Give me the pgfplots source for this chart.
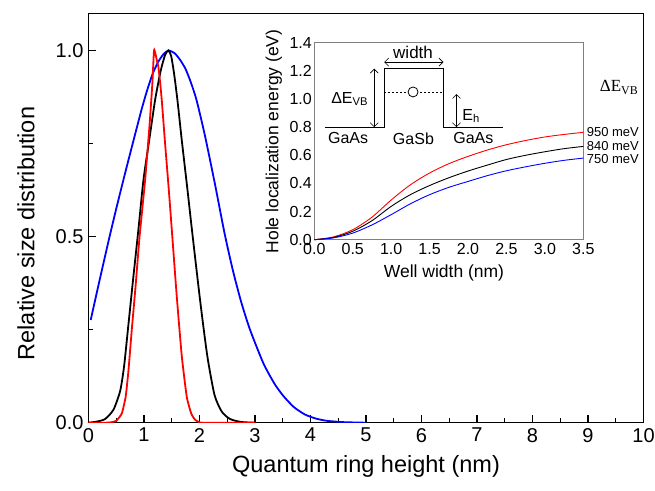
\documentclass[border=0pt]{standalone}
\usepackage{fontspec}
\setmainfont{Liberation Sans}
\newfontfamily\serifont{Liberation Serif}
\usepackage{pgfplots}
\pgfplotsset{compat=1.18}
\usetikzlibrary{arrows.meta}
\begin{document}
\begin{tikzpicture}
\begin{axis}[
 at={(0pt,0pt)}, anchor=south west,
 scale only axis, width=555pt, height=409.4pt,
 xmin=0, xmax=10, ymin=0, ymax=1.1,
 xtick={0,...,10}, ytick={0,0.5,1},
 minor x tick num=1, minor y tick num=1,
 tick pos=left, tick align=inside,
 major tick length=8pt, minor tick length=5pt,
 every tick/.style={black, line width=1.2pt},
 axis line style={line width=1.5pt},
 /pgf/number format/assume math mode=true,
 yticklabel style={/pgf/number format/fixed, /pgf/number format/fixed zerofill, /pgf/number format/precision=1, xshift=-1.5pt},
 xticklabel style={yshift=-2pt},
 tick label style={font=\fontsize{20}{22}\selectfont},
 xlabel={Quantum ring height (nm)}, ylabel={Relative size distribution},
 label style={font=\fontsize{23.5}{26}\selectfont},
 xlabel style={at={(axis description cs:0.5,-0.106)}, anchor=center},
 ylabel style={at={(axis description cs:-0.1126,0.462)}, anchor=center},
]
\addplot[blue, line width=1.8pt, smooth, tension=0.4] coordinates {
(0.04,0.276)(0.2,0.383)(0.375,0.497)(0.5,0.575)(0.645,0.662)(0.8,0.752)(0.95,0.838)(1.05,0.89)(1.15,0.935)(1.25,0.968)(1.35,0.99)(1.44,1.0)(1.55,0.993)(1.65,0.975)(1.75,0.95)(1.85,0.912)(1.95,0.865)(2.1,0.77)(2.28,0.64)(2.45,0.51)(2.6,0.41)(2.75,0.325)(2.91,0.25)(3.15,0.16)(3.35,0.105)(3.51,0.072)(3.7,0.042)(3.9,0.022)(4.1,0.011)(4.3,0.005)(4.6,0.0015)(5.0,0)};
\addplot[black, line width=1.8pt, smooth, tension=0.4] coordinates {
(0.0,0.0)(0.15,0.003)(0.3,0.01)(0.45,0.035)(0.57,0.085)(0.64,0.15)(0.71,0.25)(0.8,0.38)(0.9,0.52)(0.99,0.652)(1.1,0.765)(1.2,0.867)(1.3,0.945)(1.38,0.988)(1.44,1.0)(1.49,0.985)(1.54,0.94)(1.60,0.87)(1.68,0.76)(1.78,0.63)(1.87,0.51)(2.01,0.33)(2.14,0.18)(2.27,0.075)(2.4,0.03)(2.55,0.01)(2.75,0.002)(3,0)};
\addplot[red, line width=1.8pt, smooth, tension=0.3] coordinates {
(0.0,0)(0.3,0)(0.4,0.001)(0.5,0.005)(0.6,0.025)(0.67,0.07)(0.72,0.14)(0.78,0.25)(0.85,0.37)(0.92,0.5)(1.02,0.652)(1.10,0.8)(1.15,0.91)(1.18,1.0)(1.205,0.992)(1.23,0.975)(1.26,0.955)(1.29,0.915)(1.32,0.867)(1.38,0.75)(1.45,0.62)(1.51,0.5)(1.59,0.34)(1.68,0.18)(1.77,0.07)(1.85,0.025)(1.92,0.008)(2.0,0.001)(2.1,0)(3,0)};
\end{axis}
\begin{axis}[
 at={(225.8pt,183pt)}, anchor=south west,
 scale only axis, width=269pt, height=197pt,
 xmin=0, xmax=3.5, ymin=0, ymax=1.4,
 xtick={0,0.5,...,3.5}, ytick={0,0.2,...,1.4},
 major tick length=0pt, minor tick length=0pt, tick pos=left,
 axis line style={gray, line width=1pt},
 clip=false,
 /pgf/number format/assume math mode=true,
 tick label style={font=\fontsize{16}{18}\selectfont},
 xticklabel style={/pgf/number format/fixed, /pgf/number format/fixed zerofill, /pgf/number format/precision=1},
 yticklabel style={/pgf/number format/fixed, /pgf/number format/fixed zerofill, /pgf/number format/precision=1, xshift=1pt},
 xlabel={Well width (nm)}, ylabel={Hole localization energy (eV)},
 label style={font=\fontsize{17.5}{19}\selectfont},
 xlabel style={at={(axis description cs:0.482,-0.1675)}, anchor=center},
 ylabel style={at={(axis description cs:-0.15,0.499)}, anchor=center},
]
\addplot[red, line width=0.9pt, smooth] coordinates {
(0,0)(0.25,0.02)(0.5,0.071)(0.75,0.16)(1.0,0.282)(1.25,0.39)(1.5,0.474)(1.75,0.54)(2.0,0.592)(2.25,0.637)(2.5,0.675)(2.75,0.705)(3.0,0.73)(3.25,0.748)(3.5,0.763)};
\addplot[black, line width=0.9pt, smooth] coordinates {
(0,0)(0.25,0.016)(0.5,0.06)(0.75,0.135)(1.0,0.237)(1.25,0.32)(1.5,0.385)(1.75,0.44)(2.0,0.488)(2.25,0.53)(2.5,0.57)(2.75,0.6)(3.0,0.625)(3.25,0.647)(3.5,0.663)};
\addplot[blue, line width=0.9pt, smooth] coordinates {
(0,0)(0.25,0.013)(0.5,0.047)(0.75,0.105)(1.0,0.178)(1.25,0.255)(1.5,0.32)(1.75,0.372)(2.0,0.414)(2.25,0.455)(2.5,0.49)(2.75,0.518)(3.0,0.543)(3.25,0.564)(3.5,0.58)};
% schematic
\draw[black, line width=0.8pt] (0.14,0.8) -- (0.91,0.8) -- (0.91,1.215) -- (1.68,1.215) -- (1.68,0.8) -- (2.45,0.8);
\draw[black, line width=0.6pt, dash pattern=on 2pt off 2pt] (0.91,1.05) -- (1.68,1.05);
\draw[black, line width=0.8pt, fill=white] (1.285,1.05) circle[radius=5pt];
\draw[black, line width=0.6pt, {Straight Barb[length=4pt,width=8pt]}-{Straight Barb[length=4pt,width=8pt]}] (0.78,0.8) -- (0.78,1.215);
\draw[black, line width=0.6pt, {Straight Barb[length=4pt,width=8pt]}-{Straight Barb[length=4pt,width=8pt]}] (0.91,1.262) -- (1.68,1.262);
\draw[black, line width=0.6pt, {Straight Barb[length=4pt,width=8pt]}-{Straight Barb[length=4pt,width=8pt]}] (1.85,0.8) -- (1.85,1.035);
\node[font=\fontsize{17}{19}\selectfont] at (1.285,1.33) {width};
\node[font=\fontsize{16}{18}\selectfont] at (0.46,1.0) {ΔE\textsubscript{VB}};
\node[font=\fontsize{16}{18}\selectfont, anchor=west] at (1.88,0.88) {E\textsubscript{h}};
\node[font=\fontsize{16}{18}\selectfont] at (0.44,0.72) {GaAs};
\node[font=\fontsize{16}{18}\selectfont] at (1.29,0.72) {GaSb};
\node[font=\fontsize{16}{18}\selectfont] at (2.07,0.72) {GaAs};
\node[font=\fontsize{13}{14}\selectfont, anchor=west, inner sep=1pt] at (3.53,0.762) {950 meV};
\node[font=\fontsize{13}{14}\selectfont, anchor=west, inner sep=1pt] at (3.53,0.663) {840 meV};
\node[font=\fontsize{13}{14}\selectfont, anchor=west, inner sep=1pt] at (3.53,0.572) {750 meV};
\node[font=\serifont\fontsize{17}{19}\selectfont] at (3.965,1.08) {ΔE\textsubscript{VB}};
\end{axis}
\pgfresetboundingbox
\path[use as bounding box] (-88.5pt,-67.3pt) rectangle (566.5pt,422.7pt);
\end{tikzpicture}
\end{document}
